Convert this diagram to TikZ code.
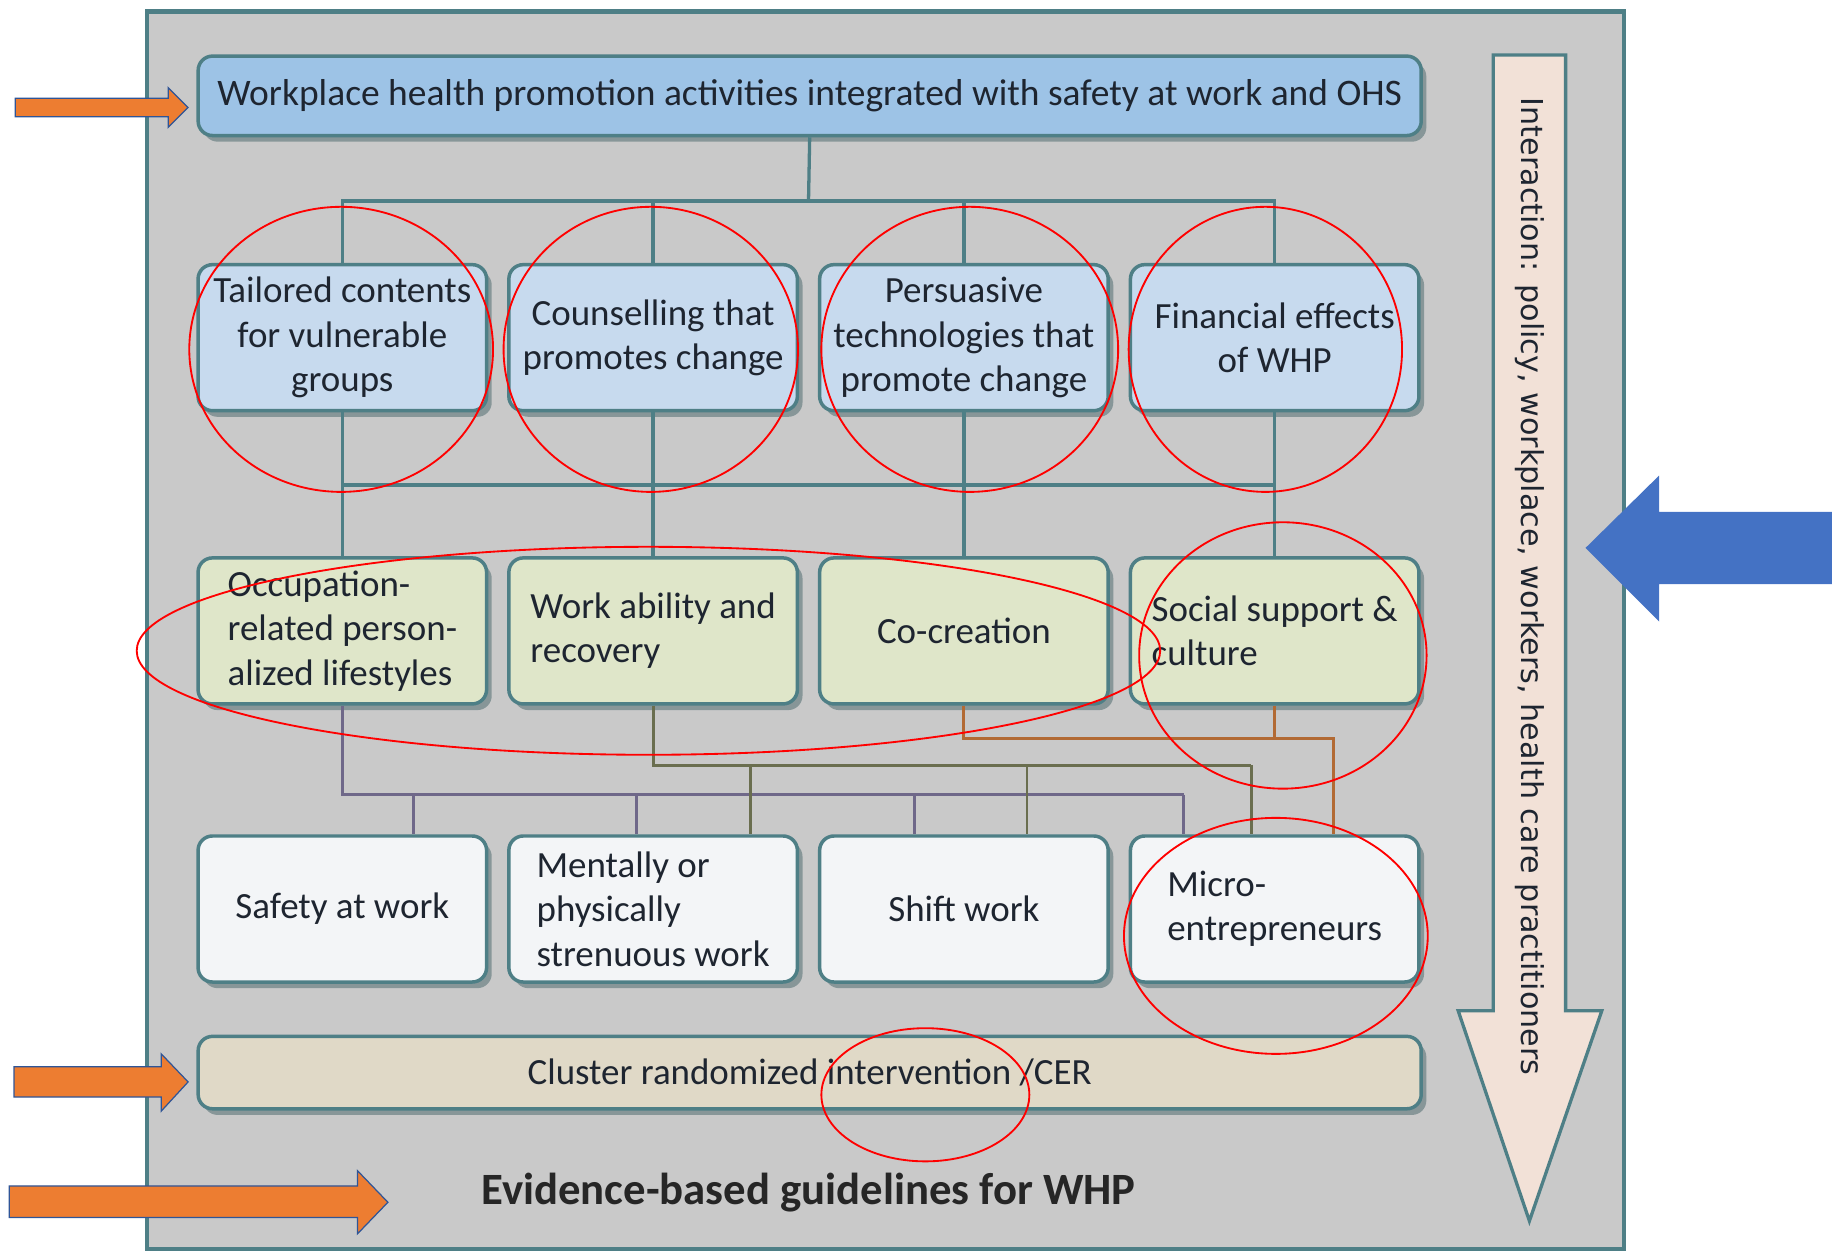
\documentclass[tikz,border=0pt]{standalone}
\usepackage{fontspec}
\setmainfont{Carlito}
\newfontfamily\vertfont{DejaVu Sans}
\usetikzlibrary{shadows}

\definecolor{frameline}{HTML}{4E7F86}
\definecolor{framefill}{HTML}{C9C9C9}
\definecolor{topblue}{HTML}{9DC3E6}
\definecolor{rowblue}{HTML}{C7DAEE}
\definecolor{rowgreen}{HTML}{DFE6C9}
\definecolor{rowwhite}{HTML}{F3F5F7}
\definecolor{clusterfill}{HTML}{E0D9C7}
\definecolor{peach}{HTML}{F2E1D7}
\definecolor{linkpurple}{HTML}{6F6889}
\definecolor{linkolive}{HTML}{6A6E4F}
\definecolor{linkorange}{HTML}{B26A34}
\definecolor{arroworange}{HTML}{ED7D31}
\definecolor{arrowedge}{HTML}{2F5597}
\definecolor{arrowblue}{HTML}{4472C4}
\definecolor{textdark}{HTML}{1E2530}

\tikzset{
  box/.style={draw=frameline, line width=1.7pt, rounded corners=7pt, align=center,
    minimum width=4.94cm, minimum height=2.5cm, inner sep=2pt, text=textdark,
    font=\fontsize{18}{21.6}\selectfont,
    drop shadow={shadow xshift=2.5pt, shadow yshift=-3pt, opacity=.45, fill=frameline!70!black}},
  widebox/.style={box, minimum width=20.94cm},
  link/.style={draw=frameline, line width=1.6pt},
  purplelink/.style={draw=linkpurple, line width=1.4pt},
  olivelink/.style={draw=linkolive, line width=1.4pt},
  orangelink/.style={draw=linkorange, line width=1.4pt},
  blockarrow/.style={fill=arroworange, draw=arrowedge, line width=0.6pt},
  mark ring/.style={draw=red, line width=0.9pt}
}

\begin{document}
\begin{tikzpicture}[x=0.02cm,y=-0.02cm]
  \useasboundingbox (0,0) rectangle (1568,1072);
  % outer frame
  \draw[draw=frameline, line width=2.2pt, fill=framefill] (126,10) rectangle (1390,1069);

  % interaction arrow on the right
  \draw[draw=frameline, line width=1.6pt, fill=peach] (1278,47) -- (1340,47) -- (1340,865) -- (1371,865)
    -- (1309,1045) -- (1248,865) -- (1278,865) -- cycle;
  \node[rotate=-90, font=\vertfont\fontsize{14.7}{17}\selectfont, text=textdark] (inter) at (1309,502)
    {Interaction: policy, workplace, workers, health care practitioners};

  % boxes
  \node[widebox, fill=topblue, minimum height=1.36cm, font=\fontsize{18.25}{22}\selectfont] (top) at (693,82)
    {Workplace health promotion activities integrated with safety at work and OHS};

  \node[box, fill=rowblue] (tail) at (293,289) {Tailored contents\\for vulnerable\\groups};
  \node[box, fill=rowblue] (couns) at (559,289) {Counselling that\\promotes change};
  \node[box, fill=rowblue] (pers) at (825,289) {Persuasive\\technologies that\\promote change};
  \node[box, fill=rowblue] (fin) at (1091,289) {Financial effects\\of WHP};

  \node[box, fill=rowgreen, align=left] (occ) at (293,540) {Occupation-\\related person-\\alized lifestyles};
  \node[box, fill=rowgreen, align=left] (work) at (559,540) {Work ability and\\recovery};
  \node[box, fill=rowgreen] (cocr) at (825,540) {Co-creation};
  \node[box, fill=rowgreen, align=left] (soc) at (1091,540) {Social support \&\\culture};

  \node[box, fill=rowwhite] (safe) at (293,778) {Safety at work};
  \node[box, fill=rowwhite, align=left] (ment) at (559,778) {Mentally or\\physically\\strenuous work};
  \node[box, fill=rowwhite] (shift) at (825,778) {Shift work};
  \node[box, fill=rowwhite, align=left] (micro) at (1091,778) {Micro-\\entrepreneurs};

  \node[widebox, fill=clusterfill, minimum height=1.24cm] (cluster) at (693,918)
    {Cluster randomized intervention /CER};
  \node[font=\fontsize{21.8}{26}\selectfont\bfseries, text=black!85] (guide) at (692,1021)
    {Evidence-based guidelines for WHP};

  % top box to first row
  \coordinate (hub) at (692,172);
  \draw[link] (top.south) -- (hub);
  \draw[link] (tail.north) |- (fin.north |- hub) -- (fin.north);
  \draw[link] (couns.north) -- (couns.north |- hub);
  \draw[link] (pers.north) -- (pers.north |- hub);

  % first row to second row
  \coordinate (bus) at (692,415);
  \draw[link] (tail.south) -- (occ.north);
  \draw[link] (couns.south) -- (work.north);
  \draw[link] (pers.south) -- (cocr.north);
  \draw[link] (fin.south) -- (soc.north);
  \draw[link] (tail.south |- bus) -- (fin.south |- bus);

  % second row to third row
  \foreach \x/\n [count=\i] in {354/safe,545/ment,783/shift,1013/micro}{
    \coordinate (p\i) at (\x,680);
    \draw[purplelink] (p\i) -- (p\i |- \n.north);
  }
  \draw[purplelink] (occ.south) |- (p4);
  \foreach \x/\n [count=\i] in {642/ment,879/shift,1071/micro}{
    \coordinate (o\i) at (\x,655);
    \draw[olivelink] (o\i) -- (o\i |- \n.north);
  }
  \draw[olivelink] (work.south) |- (o3);
  \coordinate (r1) at (1141,632);
  \draw[orangelink] (cocr.south) |- (r1) -- (r1 |- micro.north);
  \draw[orangelink] (soc.south) -- (soc.south |- r1);

  % red rings
  \draw[mark ring] (292,299) ellipse [x radius=130, y radius=122];
  \draw[mark ring] (557,299) ellipse [x radius=126, y radius=122];
  \draw[mark ring] (830,299) ellipse [x radius=127, y radius=122];
  \draw[mark ring] (1083,299) ellipse [x radius=117, y radius=122];
  \draw[mark ring] (555,557) ellipse [x radius=438, y radius=89];
  \draw[mark ring] (1098,561) ellipse [x radius=123, y radius=114];
  \draw[mark ring] (1092,801) ellipse [x radius=130, y radius=101];
  \draw[mark ring] (792,937) ellipse [x radius=89, y radius=57];

  % block arrows
  \draw[blockarrow] (13,84) -- (144,84) -- (144,75) -- (161,92) -- (144,109) -- (144,100) -- (13,100) -- cycle;
  \draw[blockarrow] (12,913) -- (138,913) -- (138,902) -- (161,926) -- (138,951) -- (138,939) -- (12,939) -- cycle;
  \draw[blockarrow] (8,1015) -- (306,1015) -- (306,1002) -- (332,1029) -- (306,1056) -- (306,1042) -- (8,1042) -- cycle;
  \fill[arrowblue] (1357,469) -- (1420,407) -- (1420,438) -- (1568,438) -- (1568,500) -- (1420,500) -- (1420,532) -- cycle;
\end{tikzpicture}
\end{document}
